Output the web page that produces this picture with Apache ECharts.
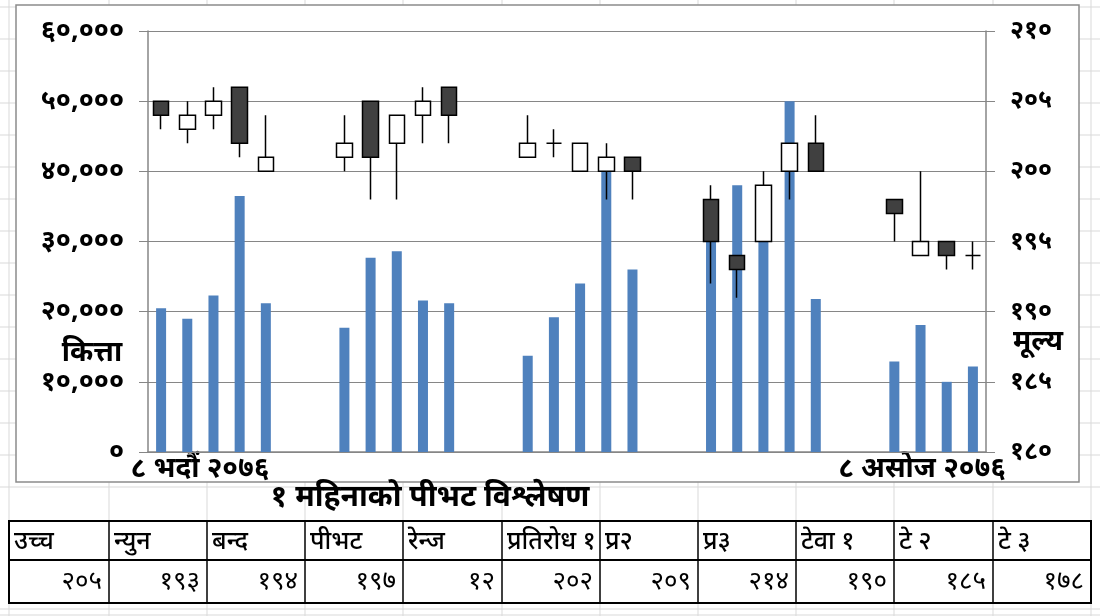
<!DOCTYPE html>
<html>
<head>
<meta charset="utf-8">
<title>पीभट विश्लेषण</title>
<script src="https://cdn.jsdelivr.net/npm/echarts@6/dist/echarts.min.js"></script>
<style>
  html, body { margin: 0; padding: 0; background: #fff; }
  #main { width: 1100px; height: 616px; }
</style>
</head>
<body>
<div id="main"></div>
<script>
// मिति (८ भदौं देखि ८ असोज २०७६)
var dates = ['८ भदौं','९ भदौं','१० भदौं','११ भदौं','१२ भदौं','१३ भदौं','१४ भदौं','१५ भदौं',
  '१६ भदौं','१७ भदौं','१८ भदौं','१९ भदौं','२० भदौं','२१ भदौं','२२ भदौं','२३ भदौं',
  '२४ भदौं','२५ भदौं','२६ भदौं','२७ भदौं','२८ भदौं','२९ भदौं','३० भदौं','३१ भदौं',
  '१ असोज','२ असोज','३ असोज','४ असोज','५ असोज','६ असोज','७ असोज','८ असोज'];
var year = '२०७६';

// कित्ता (कारोबार)
var volume = [20500,19000,22300,36500,21200,null,null,17700,27700,28600,21600,21200,null,null,
  13700,19200,24000,40000,26000,null,null,30000,38000,30000,50000,21800,null,null,
  12900,18100,10000,12200];

// मूल्य
var open  = [205,203,204,206,200,null,null,201,205,202,204,206,null,null,201,202,200,200,201,null,null,198,194,195,200,202,null,null,198,194,195,194];
var close = [204,204,205,202,201,null,null,202,201,204,205,204,null,null,202,202,202,201,200,null,null,195,193,199,202,200,null,null,197,195,194,194];
var low   = [203,202,203,201,200,null,null,200,198,198,202,202,null,null,201,201,200,198,198,null,null,192,191,195,198,200,null,null,195,194,193,193];
var high  = [205,205,206,206,204,null,null,204,205,204,206,206,null,null,204,203,202,202,201,null,null,199,194,200,202,204,null,null,198,200,195,195];

var volTicks = [0, 60000, 10000];
var priceTicks = [180, 210, 5];

// तालिका
var tableHead = ['उच्च','न्युन','बन्द','पीभट','रेन्ज','प्रतिरोध १','प्र२','प्र३','टेवा १','टे २','टे ३'];
var tableVal  = ['२०५','१९३','१९४','१९७','१२','२०२','२०९','२१४','१९०','१८५','१७८'];
var title = '१ महिनाको पीभट विश्लेषण';

var nepDigits = ['०','१','२','३','४','५','६','७','८','९'];
function toNep(s){
  return String(s).replace(/[0-9]/g, function(d){ return nepDigits[+d]; });
}
function withComma(v){
  return String(v).replace(/\B(?=(\d{3})+(?!\d))/g, ',');
}

var ohlc = [];
for (var i = 0; i < dates.length; i++) {
  if (open[i] == null) { ohlc.push('-'); }
  else { ohlc.push([open[i], close[i], low[i], high[i]]); }
}

var FONT = '"Noto Sans", "Noto Sans Devanagari", sans-serif';
var chart = echarts.init(document.getElementById('main'));

// पृष्ठभूमि (एक्सेल ग्रिड) र तालिका
var gfx = [];
var gridGray = '#d9d9d9';
for (var y = 7; y < 616; y += 32) {
  if (y > 515 && y < 610) continue;
  gfx.push({ type: 'line', z: -20, shape: { x1: 0, y1: y, x2: 1100, y2: y }, style: { stroke: gridGray, lineWidth: 1 } });
}
gfx.push({ type: 'line', z: -20, shape: { x1: 0, y1: 609, x2: 1100, y2: 609 }, style: { stroke: gridGray, lineWidth: 1 } });
var colX = [9, 109, 207, 305, 403, 502, 600, 698, 796, 894, 993, 1091];
for (var c = 0; c < colX.length; c++) {
  gfx.push({ type: 'line', z: -20, shape: { x1: colX[c], y1: 0, x2: colX[c], y2: 616 }, style: { stroke: gridGray, lineWidth: 1 } });
}
// चार्ट क्षेत्र
gfx.push({ type: 'rect', z: -10, shape: { x: 16, y: 5, width: 1063, height: 477 }, style: { fill: '#fff', stroke: '#8c8c8c', lineWidth: 1.5 } });

// अक्ष शीर्षक
gfx.push({ type: 'text', x: 92, y: 353, style: { text: 'कित्ता', font: 'bold 28px ' + FONT, fill: '#000', textAlign: 'center', textVerticalAlign: 'middle' } });
gfx.push({ type: 'text', x: 1038, y: 342, style: { text: 'मूल्य', font: 'bold 28px ' + FONT, fill: '#000', textAlign: 'center', textVerticalAlign: 'middle' } });
// मिति लेबल
gfx.push({ type: 'text', x: 200, y: 469, style: { text: dates[0] + ' ' + year, font: 'bold 28px ' + FONT, fill: '#000', textAlign: 'center', textVerticalAlign: 'middle' } });
gfx.push({ type: 'text', x: 922, y: 469, style: { text: dates[dates.length - 1] + ' ' + year, font: 'bold 28px ' + FONT, fill: '#000', textAlign: 'center', textVerticalAlign: 'middle' } });
// शीर्षक
gfx.push({ type: 'text', x: 430, y: 497, style: { text: title, font: 'bold 30px ' + FONT, fill: '#000', textAlign: 'center', textVerticalAlign: 'middle' } });

// तालिका
gfx.push({ type: 'rect', z: 5, shape: { x: 9, y: 521, width: 1082, height: 82 }, style: { fill: '#fff', stroke: '#000', lineWidth: 2 } });
gfx.push({ type: 'line', z: 6, shape: { x1: 9, y1: 560, x2: 1091, y2: 560 }, style: { stroke: '#000', lineWidth: 2 } });
for (var k = 1; k < colX.length - 1; k++) {
  gfx.push({ type: 'line', z: 6, shape: { x1: colX[k], y1: 521, x2: colX[k], y2: 603 }, style: { stroke: '#000', lineWidth: 1.5 } });
}
for (var t = 0; t < tableHead.length; t++) {
  gfx.push({ type: 'text', z: 7, x: colX[t] + 5, y: 542, style: { text: tableHead[t], font: '500 25px ' + FONT, fill: '#000', textAlign: 'left', textVerticalAlign: 'middle' } });
  gfx.push({ type: 'text', z: 7, x: colX[t + 1] - 7, y: 582, style: { text: tableVal[t], font: '26px ' + FONT, fill: '#000', textAlign: 'right', textVerticalAlign: 'middle' } });
}

var option = {
  backgroundColor: '#fff',
  animation: false,
  grid: { left: 148, right: 114, top: 31, bottom: 164 },
  xAxis: {
    type: 'category',
    data: dates,
    boundaryGap: true,
    axisLine: { lineStyle: { color: '#868686', width: 1.5 } },
    axisTick: { show: false },
    axisLabel: { show: false }
  },
  yAxis: [{
    type: 'value',
    min: volTicks[0], max: volTicks[1], interval: volTicks[2],
    position: 'left',
    axisLine: { show: true, lineStyle: { color: '#868686', width: 1.5 } },
    axisTick: { show: true, length: 9, lineStyle: { color: '#868686' } },
    splitLine: { lineStyle: { color: '#868686', width: 1.2 } },
    axisLabel: {
      margin: 24, color: '#000', fontWeight: 'bold', fontSize: 27, fontFamily: FONT,
      formatter: function(v){ return toNep(withComma(v)); }
    }
  }, {
    type: 'value',
    min: priceTicks[0], max: priceTicks[1], interval: priceTicks[2],
    position: 'right',
    axisLine: { show: true, lineStyle: { color: '#868686', width: 1.5 } },
    axisTick: { show: true, length: 9, lineStyle: { color: '#868686' } },
    splitLine: { show: false },
    axisLabel: {
      margin: 24, color: '#000', fontWeight: 'bold', fontSize: 25, fontFamily: FONT,
      formatter: function(v){ return toNep(v); }
    }
  }],
  series: [{
    name: 'कित्ता',
    type: 'bar',
    yAxisIndex: 0,
    data: volume,
    barWidth: 10,
    itemStyle: { color: '#4f81bd' }
  }, {
    name: 'मूल्य',
    type: 'candlestick',
    yAxisIndex: 1,
    data: ohlc,
    barWidth: 16,
    itemStyle: {
      color: '#ffffff', color0: '#404040',
      borderColor: '#000', borderColor0: '#000', borderColorDoji: '#000',
      borderWidth: 1.5
    }
  }],
  graphic: { elements: gfx }
};

chart.setOption(option);
</script>
</body>
</html>
